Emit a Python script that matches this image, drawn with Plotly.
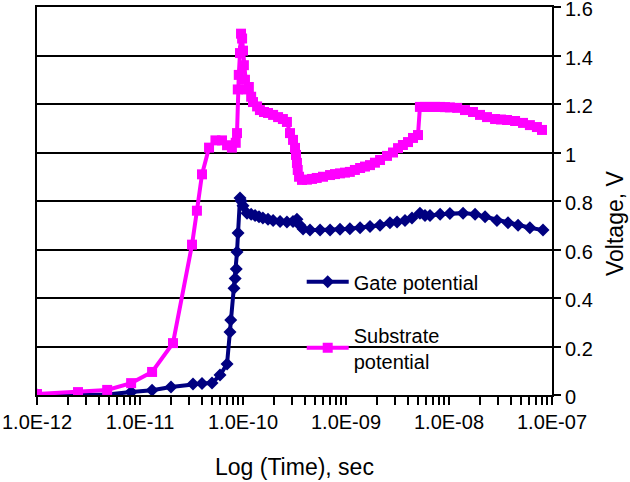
import plotly.graph_objects as go

# Substrate potential (time in s, voltage in V)
sub_t = [1.0e-12, 2.5e-12, 4.8e-12, 8.2e-12, 1.31e-11, 2.09e-11, 3.2e-11, 3.57e-11,
         4.0e-11, 4.68e-11, 5.4e-11, 6.25e-11, 7.0e-11, 7.8e-11, 8.5e-11, 8.75e-11,
         8.9e-11, 9.1e-11, 9.35e-11, 9.57e-11, 9.8e-11, 1.0e-10, 1.02e-10, 1.045e-10,
         1.08e-10, 1.14e-10, 1.2e-10, 1.25e-10, 1.37e-10, 1.46e-10, 1.6e-10, 1.75e-10,
         1.96e-10, 2.19e-10, 2.44e-10, 2.67e-10, 2.86e-10, 3.06e-10, 3.2e-10, 3.27e-10,
         3.34e-10, 3.4e-10, 3.5e-10, 3.74e-10, 4.18e-10, 4.68e-10, 5.2e-10, 5.98e-10,
         7.0e-10, 7.82e-10, 8.75e-10, 9.78e-10, 1.09e-9, 1.22e-9, 1.37e-9, 1.53e-9,
         1.71e-9, 1.91e-9, 2.14e-9, 2.5e-9, 2.86e-9, 3.2e-9, 3.57e-9, 4.0e-9,
         4.47e-9, 5.0e-9, 5.22e-9, 5.85e-9, 6.54e-9, 7.31e-9, 8.2e-9, 9.14e-9,
         1.02e-8, 1.2e-8, 1.43e-8, 1.71e-8, 2.0e-8, 2.34e-8, 2.8e-8, 3.2e-8,
         3.66e-8, 4.38e-8, 5.23e-8, 6.1e-8, 7.14e-8, 8.0e-8]
sub_v = [0.004, 0.012, 0.021, 0.049, 0.095, 0.214, 0.62, 0.76,
         0.91, 1.02, 1.05, 1.05, 1.03, 1.02, 1.04, 1.08,
         1.26, 1.32, 1.41, 1.49, 1.47, 1.42, 1.36, 1.30,
         1.26, 1.27, 1.23, 1.208, 1.19, 1.175, 1.167, 1.163,
         1.155, 1.146, 1.138, 1.126, 1.08, 1.052, 1.019, 0.99,
         0.957, 0.928, 0.90, 0.887, 0.888, 0.891, 0.895, 0.90,
         0.907, 0.911, 0.914, 0.917, 0.92, 0.928, 0.936, 0.942,
         0.948, 0.958, 0.969, 0.986, 1.0, 1.018, 1.031, 1.043,
         1.06, 1.072, 1.188, 1.188, 1.188, 1.188, 1.188, 1.187,
         1.186, 1.184, 1.175, 1.167, 1.155, 1.146, 1.138, 1.136,
         1.134, 1.130, 1.122, 1.113, 1.105, 1.093]

# Gate potential
gate_t = [1.0e-12, 2.5e-12, 4.8e-12, 8.2e-12, 1.31e-11, 2.0e-11, 3.27e-11, 4.0e-11,
          5.0e-11, 5.98e-11, 7.0e-11, 7.48e-11, 7.6e-11, 8.18e-11, 8.4e-11, 8.6e-11,
          8.75e-11, 8.95e-11, 9.35e-11, 9.6e-11, 1.0e-10, 1.094e-10, 1.2e-10, 1.31e-10,
          1.43e-10, 1.56e-10, 1.75e-10, 1.96e-10, 2.29e-10, 2.67e-10, 3.06e-10, 3.34e-10,
          3.57e-10, 3.83e-10, 4.47e-10, 5.6e-10, 7.0e-10, 8.75e-10, 1.09e-9, 1.37e-9,
          1.71e-9, 2.14e-9, 2.67e-9, 3.13e-9, 3.74e-9, 4.37e-9, 5.22e-9, 5.85e-9,
          6.54e-9, 8.2e-9, 1.02e-8, 1.37e-8, 1.79e-8, 2.24e-8, 2.92e-8, 3.74e-8,
          4.68e-8, 6.1e-8, 8.18e-8]
gate_v = [0.0, 0.0, 0.002, 0.012, 0.02, 0.033, 0.045, 0.047,
          0.049, 0.082, 0.128, 0.26, 0.309, 0.44, 0.48, 0.52,
          0.59, 0.668, 0.812, 0.80, 0.78, 0.75, 0.745, 0.74,
          0.735, 0.73, 0.725, 0.72, 0.715, 0.713, 0.715, 0.725,
          0.70, 0.685, 0.68, 0.68, 0.68, 0.683, 0.686, 0.69,
          0.695, 0.70, 0.71, 0.713, 0.72, 0.73, 0.75, 0.74,
          0.74, 0.745, 0.748, 0.75, 0.745, 0.735, 0.72, 0.71,
          0.70, 0.69, 0.68]

decades = [-12, -11, -10, -9, -8, -7]
x_tick_labels = ["1.0E-12", "1.0E-11", "1.0E-10", "1.0E-09", "1.0E-08", "1.0E-07"]
y_ticks = [0, 0.2, 0.4, 0.6, 0.8, 1.0, 1.2, 1.4, 1.6]
y_tick_labels = ["0", "0.2", "0.4", "0.6", "0.8", "1", "1.2", "1.4", "1.6"]

tickvals, ticktext = [], []
for i, d in enumerate(decades):
    tickvals.append(10.0 ** d)
    ticktext.append(x_tick_labels[i])
    if d < -7:
        for m in range(2, 10):
            tickvals.append(m * 10.0 ** d)
            ticktext.append("")

FONT = "Liberation Sans, Arial, sans-serif"
NAVY = "#000080"
MAGENTA = "#FF00FF"

fig = go.Figure()
fig.add_trace(go.Scatter(
    x=gate_t, y=gate_v, mode="lines+markers", name="Gate potential",
    legendgroup="g", line=dict(color=NAVY, width=4),
    marker=dict(symbol="diamond", size=10, color=NAVY)))
fig.add_trace(go.Scatter(
    x=sub_t, y=sub_v, mode="lines+markers", name="Substrate<br>potential",
    legendgroup="s", line=dict(color=MAGENTA, width=4),
    marker=dict(symbol="square", size=10, color=MAGENTA)))

# white legend panel that hides the gridlines behind the legend
fig.add_shape(type="rect", xref="paper", yref="paper",
              x0=0.491, x1=0.895, y0=0.075, y1=0.345,
              fillcolor="white", line=dict(width=0), layer="between")

fig.add_annotation(text="Log (Time), sec", xref="paper", yref="paper",
                   x=(294 - 37) / 515, y=-(467 - 395) / 388,
                   xanchor="center", yanchor="middle", showarrow=False,
                   font=dict(family=FONT, size=23, color="black"))
fig.add_annotation(text="Voltage, V", xref="paper", yref="paper",
                   x=1 + (615 - 552) / 515, y=(395 - 223) / 388, textangle=-90,
                   xanchor="center", yanchor="middle", showarrow=False,
                   font=dict(family=FONT, size=23, color="black"))

fig.update_layout(
    width=630, height=482,
    margin=dict(l=37, r=78, t=7, b=87),
    paper_bgcolor="white", plot_bgcolor="white",
    font=dict(family=FONT, size=20, color="black"),
    showlegend=True,
    legend=dict(x=0.514, y=0.342, xanchor="left", yanchor="top",
                bgcolor="rgba(0,0,0,0)", borderwidth=0, tracegroupgap=24,
                font=dict(family=FONT, size=20, color="black"),
                itemwidth=42),
    xaxis=dict(type="log", range=[-12, -7], tickmode="array",
               tickvals=tickvals, ticktext=ticktext, automargin=False,
               ticks="outside", ticklen=8, tickwidth=1.5, tickcolor="black",
               showgrid=False, zeroline=False, ticklabeloverflow="allow",
               showline=True, linecolor="black", linewidth=2, mirror=True,
               tickfont=dict(size=20)),
    yaxis=dict(side="right", range=[0, 1.6], tickmode="array",
               tickvals=y_ticks, ticktext=y_tick_labels, automargin=False,
               ticks="outside", ticklen=7, tickwidth=1.5, tickcolor="black",
               showgrid=True, gridcolor="black", gridwidth=1.5, zeroline=False,
               ticklabeloverflow="allow", ticklabelshift=2,
               showline=True, linecolor="black", linewidth=2, mirror=True,
               tickfont=dict(size=20)),
)

# remove the browser's default 8px body margin so the figure sits at (0, 0)
fig.write_html("out.html",
               config={"displayModeBar": False},
               post_script="document.body.style.margin='0';")
